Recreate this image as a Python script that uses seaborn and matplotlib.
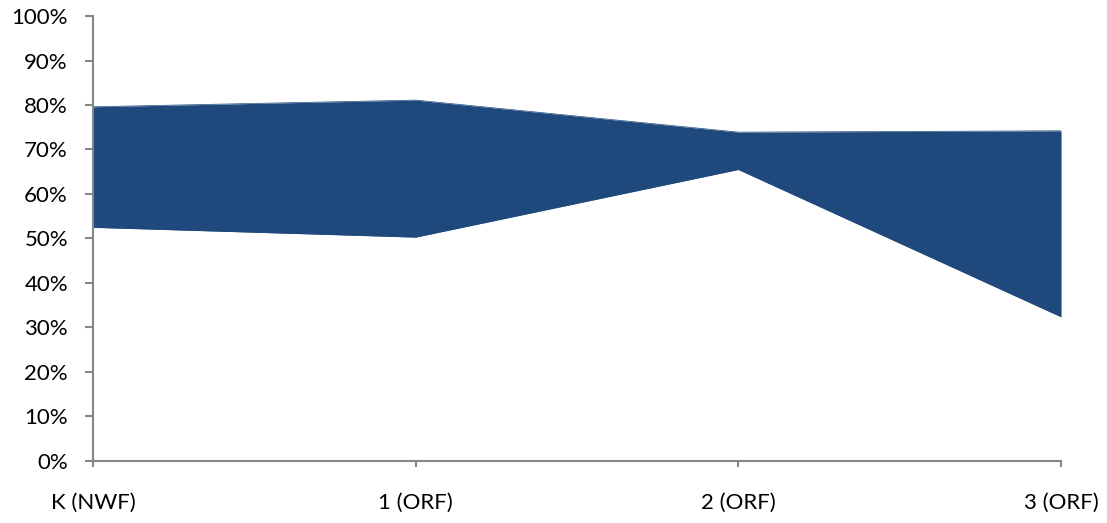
import matplotlib
matplotlib.use("Agg")
import matplotlib.pyplot as plt
import seaborn as sns
import pandas as pd
from matplotlib.ticker import PercentFormatter

categories = ["K (NWF)", "1 (ORF)", "2 (ORF)", "3 (ORF)"]
upper = [79.6, 81.1, 73.9, 74.2]
lower = [52.5, 50.3, 65.5, 32.4]

sns.set_style("white")
plt.rcParams['font.family'] = ['Lato', 'DejaVu Sans']

df = pd.DataFrame({"x": range(len(categories)), "upper": upper, "lower": lower})

fig = plt.figure(figsize=(11.07, 5.23), dpi=100)
ax = fig.add_axes([0.084, 0.1186, 0.8745, 0.8508])

color = "#1F497D"
sns.lineplot(data=df, x="x", y="upper", ax=ax, color=color, linewidth=0.5)
sns.lineplot(data=df, x="x", y="lower", ax=ax, color=color, linewidth=0.5)
ax.fill_between(df["x"], df["lower"], df["upper"], color=color, linewidth=0)

ax.set_xlim(0, len(categories) - 1)
ax.set_ylim(0, 100)
ax.set_yticks(range(0, 101, 10))
ax.yaxis.set_major_formatter(PercentFormatter(decimals=0))
ax.set_xticks(range(len(categories)))
ax.set_xticklabels(categories)
ax.set_xlabel("")
ax.set_ylabel("")

for s in ["top", "right"]:
    ax.spines[s].set_visible(False)
for s in ["left", "bottom"]:
    ax.spines[s].set_color("#868686")
    ax.spines[s].set_linewidth(1.5)

ax.tick_params(axis="y", direction="out", length=6, width=1.5, color="#868686",
               labelsize=16, pad=12, left=True, labelcolor="black")
ax.tick_params(axis="x", direction="out", length=4, width=1.5, color="#868686",
               labelsize=16, pad=19, bottom=True, labelcolor="black")

fig.savefig("out.png", dpi=100)
